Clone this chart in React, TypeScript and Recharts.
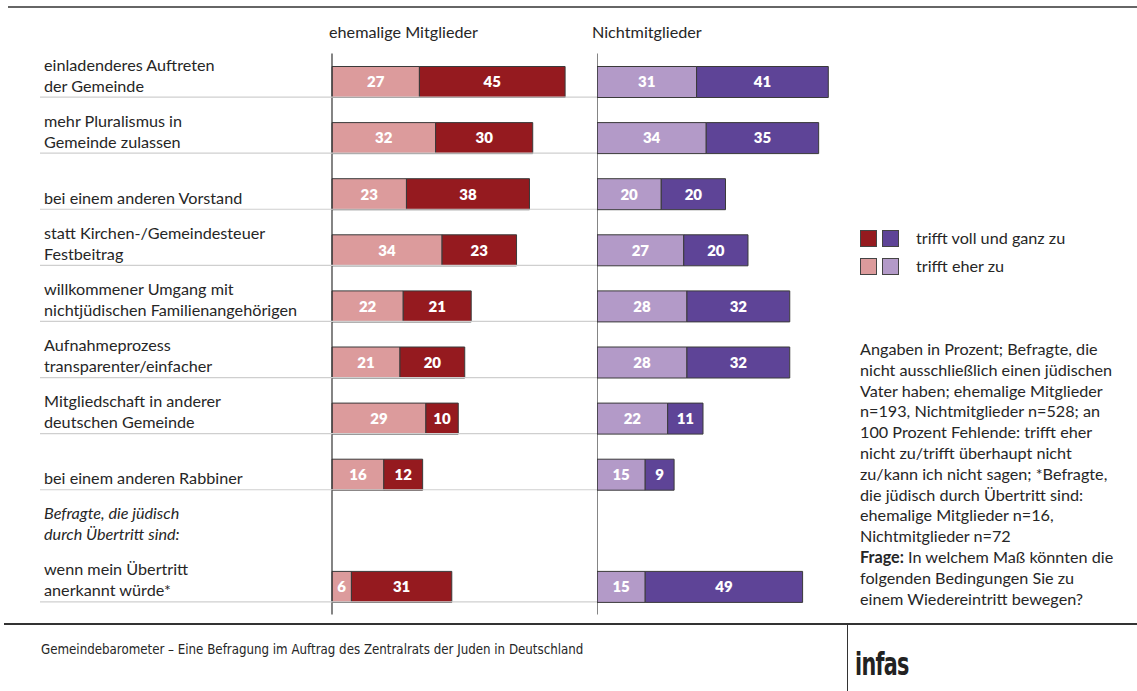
import { BarChart, Bar, XAxis, YAxis, LabelList, ReferenceLine } from "recharts";

// Categories, one per row. Row 9 is the italic sub-header (no bars).
const categories = [
  "einladenderes Auftreten\nder Gemeinde",
  "mehr Pluralismus in\nGemeinde zulassen",
  "bei einem anderen Vorstand",
  "statt Kirchen-/Gemeindesteuer\nFestbeitrag",
  "willkommener Umgang mit\nnichtjüdischen Familienangehörigen",
  "Aufnahmeprozess\ntransparenter/einfacher",
  "Mitgliedschaft in anderer\ndeutschen Gemeinde",
  "bei einem anderen Rabbiner",
  "Befragte, die jüdisch\ndurch Übertritt sind:",
  "wenn mein Übertritt\nanerkannt würde*",
];
const HEADER_ROW = 8;

// ehemalige Mitglieder
const formerEher = [27, 32, 23, 34, 22, 21, 29, 16, null, 6];
const formerVoll = [45, 30, 38, 23, 21, 20, 10, 12, null, 31];
// Nichtmitglieder
const nonEher = [31, 34, 20, 27, 28, 28, 22, 15, null, 15];
const nonVoll = [41, 35, 20, 20, 32, 32, 11, 9, null, 49];

const RED_DARK = "#951a1f";
const RED_LIGHT = "#dc9b9c";
const PURPLE_DARK = "#5e4497";
const PURPLE_LIGHT = "#b39ac8";
const BORDER = "#3a3a3a";
const TEXT = "#262626";
const FONT = "Lato, 'Open Sans', sans-serif";

const formerData = categories.map((cat, i) => ({ cat, eher: formerEher[i], voll: formerVoll[i] }));
const nonData = categories.map((cat, i) => ({ cat, eher: nonEher[i], voll: nonVoll[i] }));

const TOP = 53.5;
const PLOT_H = 561;
const BAR = 31;

function CatTick(props: any) {
  const { y, payload, index } = props;
  const lines = String(payload.value).split("\n");
  const isHeader = index === HEADER_ROW;
  const base = y + BAR / 2 - 5.5;
  return (
    <g>
      {lines.map((ln, k) => (
        <text
          key={k}
          x={44}
          y={base - (lines.length - 1 - k) * 21}
          fill={TEXT}
          fontSize={16.2}
          fontFamily={FONT}
          fontStyle={isHeader ? "italic" : "normal"}
        >
          {ln}
        </text>
      ))}
      {!isHeader && (
        <line x1={40} x2={597} y1={y + BAR / 2} y2={y + BAR / 2} stroke="#cfcfcf" strokeWidth={1.2} />
      )}
    </g>
  );
}

const valueLabel = (v: any) => (v == null ? "" : v);

function Panel({ data, light, dark, withLabels, width, left, plotW }: any) {
  return (
    <BarChart
      layout="vertical"
      width={width}
      height={691}
      data={data}
      barSize={BAR}
      margin={{ top: TOP, right: width - left - plotW, bottom: 691 - TOP - PLOT_H, left: 0 }}
    >
      <XAxis type="number" domain={[0, 80]} hide />
      {withLabels ? (
        <YAxis
          type="category"
          dataKey="cat"
          width={left}
          axisLine={false}
          tickLine={false}
          interval={0}
          tick={<CatTick />}
        />
      ) : (
        <YAxis type="category" dataKey="cat" hide />
      )}
      <Bar dataKey="eher" stackId="s" fill={light} stroke={BORDER} strokeWidth={1} isAnimationActive={false}>
        <LabelList
          dataKey="eher"
          position="center"
          formatter={valueLabel}
          fill="#fff"
          fontSize={15}
          fontWeight={800}
          fontFamily={FONT}
        />
      </Bar>
      <Bar dataKey="voll" stackId="s" fill={dark} stroke={BORDER} strokeWidth={1} isAnimationActive={false}>
        <LabelList
          dataKey="voll"
          position="center"
          formatter={valueLabel}
          fill="#fff"
          fontSize={15}
          fontWeight={800}
          fontFamily={FONT}
        />
      </Bar>
      <ReferenceLine x={0} stroke="#333" strokeWidth={1.2} ifOverflow="visible" />
    </BarChart>
  );
}

const noteLines = [
  "Angaben in Prozent; Befragte, die",
  "nicht ausschließlich einen jüdischen",
  "Vater haben; ehemalige Mitglieder",
  "n=193, Nichtmitglieder n=528; an",
  "100 Prozent Fehlende: trifft eher",
  "nicht zu/trifft überhaupt nicht",
  "zu/kann ich nicht sagen; *Befragte,",
  "die jüdisch durch Übertritt sind:",
  "ehemalige Mitglieder n=16,",
  "Nichtmitglieder n=72",
];

const sq = (c: string, x: number, y: number) => (
  <div
    style={{
      position: "absolute",
      left: x,
      top: y,
      width: 15,
      height: 15,
      background: c,
      border: "1px solid #444",
    }}
  />
);

export default function App() {
  return (
    <div
      style={{
        position: "absolute",
        left: 0,
        top: 0,
        width: 1137,
        height: 691,
        background: "#fff",
        fontFamily: FONT,
        color: TEXT,
        overflow: "hidden",
      }}
    >
      {/* top rule */}
      <div style={{ position: "absolute", left: 8, top: 6, width: 1129, height: 2, background: "#666" }} />

      <div style={{ position: "absolute", left: 329, top: 22, fontSize: 16.2 }}>ehemalige Mitglieder</div>
      <div style={{ position: "absolute", left: 592, top: 22, fontSize: 16.2 }}>Nichtmitglieder</div>

      <div style={{ position: "absolute", left: 0, top: 0 }}>
        <Panel data={formerData} light={RED_LIGHT} dark={RED_DARK} withLabels width={597} left={332} plotW={259} />
      </div>
      <div style={{ position: "absolute", left: 597, top: 0 }}>
        <Panel data={nonData} light={PURPLE_LIGHT} dark={PURPLE_DARK} withLabels={false} width={260} left={0} plotW={257} />
      </div>

      {/* legend */}
      {sq(RED_DARK, 860, 230)}
      {sq(PURPLE_DARK, 882, 230)}
      {sq(RED_LIGHT, 860, 258)}
      {sq(PURPLE_LIGHT, 882, 258)}
      <div style={{ position: "absolute", left: 916, top: 228, fontSize: 16.2 }}>trifft voll und ganz zu</div>
      <div style={{ position: "absolute", left: 916, top: 256, fontSize: 16.2 }}>trifft eher zu</div>

      {/* note */}
      <div style={{ position: "absolute", left: 860, top: 339, fontSize: 16.2, lineHeight: "20.8px", whiteSpace: "nowrap" }}>
        {noteLines.map((l, i) => (
          <div key={i}>{l}</div>
        ))}
        <div>
          <b>Frage:</b> In welchem Maß könnten die
        </div>
        <div>folgenden Bedingungen Sie zu</div>
        <div>einem Wiedereintritt bewegen?</div>
      </div>

      {/* footer */}
      <div style={{ position: "absolute", left: 4, top: 623, width: 1133, height: 2, background: "#333" }} />
      <div style={{ position: "absolute", left: 847, top: 625, width: 1, height: 66, background: "#333" }} />
      <div
        style={{
          position: "absolute",
          left: 41,
          top: 642,
          fontSize: 13.2,
          fontFamily: "'DejaVu Sans Condensed', sans-serif",
          whiteSpace: "nowrap",
        }}
      >
        Gemeindebarometer – Eine Befragung im Auftrag des Zentralrats der Juden in Deutschland
      </div>
      <div
        style={{
          position: "absolute",
          left: 855,
          top: 645,
          fontSize: 32,
          fontWeight: 700,
          fontFamily: "'DejaVu Sans Condensed', sans-serif",
          transform: "scaleX(0.72)",
          transformOrigin: "left top",
          letterSpacing: -1,
          color: "#222",
        }}
      >
        infas
      </div>
    </div>
  );
}
